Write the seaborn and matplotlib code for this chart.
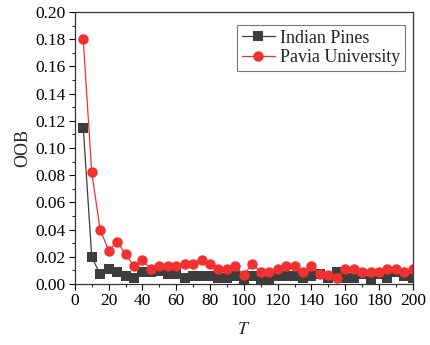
import numpy as np
import pandas as pd
import matplotlib
matplotlib.use("Agg")
import matplotlib.pyplot as plt
from matplotlib.ticker import MultipleLocator
import seaborn as sns

T = list(range(5, 201, 5))
indian_pines = [0.115, 0.020, 0.007, 0.011, 0.0085, 0.006, 0.0045, 0.0085, 0.0085, 0.0095,
                0.007, 0.007, 0.0045, 0.006, 0.006, 0.006, 0.0045, 0.0045, 0.006, 0.002,
                0.006, 0.0025, 0.0025, 0.006, 0.006, 0.006, 0.0045, 0.006, 0.007, 0.0045,
                0.0085, 0.0045, 0.0045, 0.007, 0.0025, 0.007, 0.0045, 0.0085, 0.006, 0.0045]
pavia = [0.180, 0.082, 0.040, 0.0245, 0.031, 0.022, 0.0132, 0.0176, 0.0108, 0.013,
         0.013, 0.013, 0.015, 0.015, 0.0176, 0.015, 0.011, 0.011, 0.013, 0.0064,
         0.015, 0.0085, 0.0085, 0.011, 0.013, 0.013, 0.0088, 0.013, 0.007, 0.0064,
         0.004, 0.011, 0.011, 0.0088, 0.0088, 0.0088, 0.011, 0.011, 0.0088, 0.011]
series_names = ["Indian Pines", "Pavia University"]

df = pd.DataFrame({
    "T": T * 2,
    "OOB": indian_pines + pavia,
    "Dataset": [series_names[0]] * len(T) + [series_names[1]] * len(T),
})

sns.set_style("ticks")
plt.rcParams["font.family"] = ["Liberation Serif", "DejaVu Serif"]
plt.rcParams["mathtext.fontset"] = "stix"

fig = plt.figure(figsize=(4.3, 3.45), dpi=100)
ax = fig.add_axes([0.174, 0.177, 0.786, 0.788])

palette = {series_names[0]: "#3d3d3d", series_names[1]: "#f23030"}
markers = {series_names[0]: "s", series_names[1]: "o"}
sns.lineplot(data=df, x="T", y="OOB", hue="Dataset", style="Dataset",
             palette=palette, markers=markers, dashes=False,
             markersize=7.5, markeredgewidth=0, linewidth=0.9, ax=ax)

ax.set_xlim(0, 200)
ax.set_ylim(0, 0.20)
ax.xaxis.set_major_locator(MultipleLocator(20))
ax.xaxis.set_minor_locator(MultipleLocator(10))
ax.yaxis.set_major_locator(MultipleLocator(0.02))
ax.yaxis.set_minor_locator(MultipleLocator(0.01))
ax.yaxis.set_major_formatter(matplotlib.ticker.FormatStrFormatter("%.2f"))
ax.tick_params(which="major", direction="out", length=4, width=0.8, labelsize=12.5,
               colors="black", pad=2.5)
ax.tick_params(which="minor", direction="out", length=2, width=0.8)
for s in ax.spines.values():
    s.set_linewidth(0.9)
    s.set_color("#333333")

ax.set_xlabel("$T$", fontsize=13, labelpad=9)
ax.set_ylabel("OOB", fontsize=13, labelpad=3)

leg = ax.legend(loc="upper right", fontsize=13, frameon=True, fancybox=False,
                edgecolor="#555555", borderpad=0.25, handlelength=1.8,
                handletextpad=0.3, labelspacing=0.15, borderaxespad=0,
                bbox_to_anchor=(0.976, 0.952))
leg.get_frame().set_linewidth(0.8)

fig.savefig("out.png", dpi=100)
